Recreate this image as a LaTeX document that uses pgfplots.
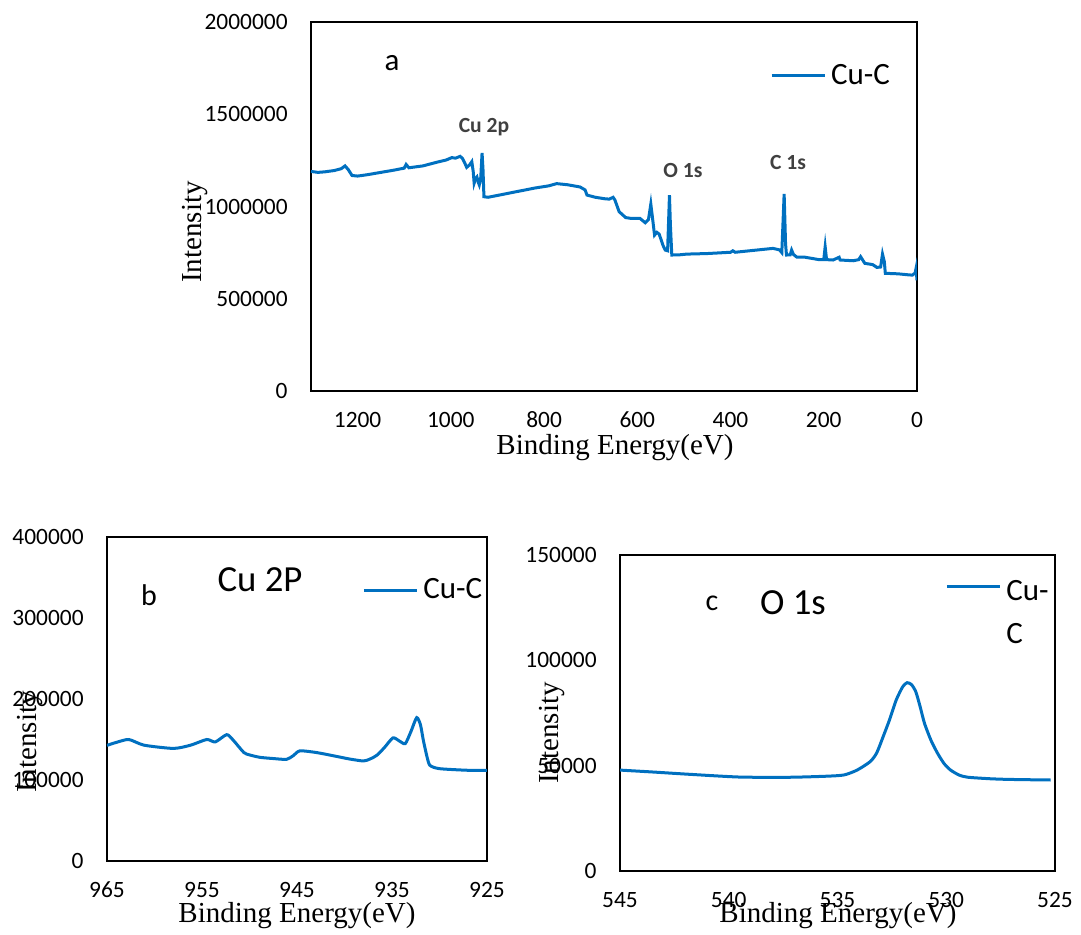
\documentclass[border=0pt]{standalone}
\usepackage{fontspec}
\setmainfont{Liberation Serif}
\newfontfamily\carlito{Carlito}
\usepackage{pgfplots}
\pgfplotsset{compat=1.18}
\definecolor{xblue}{HTML}{0070C0}
\definecolor{anngray}{HTML}{404040}

\pgfplotsset{
  panel/.style={
    scale only axis, anchor=south west,
    axis line style={black, line width=1pt},
    major tick length=0pt,
    tick style={draw=none},
    x dir=reverse,
    scaled y ticks=false, scaled x ticks=false,
    ticklabel style={font=\carlito\fontsize{11.7}{14}\selectfont, inner sep=0pt},
    xticklabel style={anchor=center, yshift=-14.5pt},
    yticklabel style={anchor=east, xshift=-11.5pt},
    /pgf/number format/assume math mode=true,
    legend style={draw=none, fill=none, inner sep=0pt,
      font=\carlito\fontsize{15.5}{21.5}\selectfont, anchor=west,
      nodes={inner sep=0pt}, column sep=2.5pt},
    legend image code/.code={\draw[##1] (0pt,0pt) -- (26.5pt,0pt);},
  }
}

\begin{document}
\begin{tikzpicture}
\useasboundingbox (0,0) rectangle (540.5pt,467pt);

% ---------------- panel a ----------------
\begin{axis}[panel, at={(155.5pt,271.5pt)}, width=303pt, height=184.5pt,
  xmin=0, xmax=1300, ymin=0, ymax=2000000,
  xtick={0,200,400,600,800,1000,1200},
  xticklabels={0,200,400,600,800,1000,1200},
  ytick={0,500000,1000000,1500000,2000000},
  yticklabels={0,500000,1000000,1500000,2000000},
  legend style={at={(0.757,0.854)}}]
\addplot[xblue, line width=1.5pt, no markers] table {
1300 1190000
1285 1185000
1270 1188000
1250 1195000
1235 1205000
1227 1220000
1220 1200000
1212 1168000
1200 1165000
1180 1172000
1150 1185000
1120 1198000
1100 1208000
1096 1228000
1090 1210000
1060 1220000
1030 1240000
1010 1252000
998 1265000
990 1262000
980 1272000
975 1260000
970 1235000
966 1212000
960 1225000
955 1243000
952 1190000
950 1127000
947 1150000
944 1160000
941 1130000
939 1117000
936 1150000
933 1290000
931 1200000
929 1053000
920 1050000
900 1060000
860 1080000
820 1100000
790 1112000
773 1124000
750 1118000
723 1106000
712 1090000
708 1062000
690 1050000
670 1042000
660 1040000
652 1050000
648 1035000
639 972000
625 940000
612 935000
594 935000
583 912000
576 930000
571 1013000
567 930000
563 845000
558 860000
553 850000
545 790000
540 764000
535 760000
531 1062000
529 900000
526 737000
510 738000
494 742000
450 745000
400 752000
395 760000
390 752000
340 765000
309 773000
295 765000
290 750000
285 1068000
282 800000
280 737000
272 738000
269 764000
265 740000
258 726000
240 725000
210 712000
200 712000
197 782000
194 712000
180 710000
167 725000
165 710000
137 706000
125 712000
121 728000
116 708000
112 692000
95 685000
86 670000
78 672000
74 742000
70 700000
68 638000
40 635000
20 630000
10 628000
4 640000
2 665000
0 600000
};
\addlegendentry{Cu-C}
\end{axis}

% ---------------- panel b ----------------
\begin{axis}[panel, at={(53.5pt,36.5pt)}, width=190pt, height=162pt,
  xmin=925, xmax=965, ymin=0, ymax=400000,
  xtick={925,935,945,955,965},
  xticklabels={925,935,945,955,965},
  ytick={0,100000,200000,300000,400000},
  yticklabels={0,100000,200000,300000,400000},
  legend style={at={(0.671,0.836)}}]
\addplot[xblue, line width=1.5pt, no markers, smooth, tension=0.4] table {
965 142800
964 146500
962.7 150000
961.1 143000
958 139000
956.2 143000
954.5 150000
953.6 147000
952.4 156000
951.7 149000
950.6 134000
950 131000
948.9 128000
947.5 126500
946.1 125500
945.4 130000
944.7 136000
943 134000
941.2 130000
939.5 126000
938 123500
937.3 126000
936.6 130500
935.8 140000
934.9 152000
934.2 148000
933.6 145000
933.0 160000
932.4 177000
932.0 168000
931.7 149000
931.3 128000
931 118000
930 114000
927 112000
925 112000
};
\addlegendentry{Cu-C}
\end{axis}

% ---------------- panel c ----------------
\begin{axis}[panel, at={(310pt,31.5pt)}, width=217.5pt, height=158pt,
  xmin=525, xmax=545, ymin=0, ymax=150000,
  xtick={525,530,535,540,545},
  xticklabels={525,530,535,540,545},
  ytick={0,50000,100000,150000},
  yticklabels={0,50000,100000,150000},
  legend style={at={(0.747,0.899)}}]
\addplot[xblue, line width=1.5pt, no markers, smooth, tension=0.4] table {
545 47900
543.5 47000
541.8 45900
539.5 44600
537.2 44500
535.5 45000
534.7 45600
534.1 47900
533.5 51900
533.2 56000
532.9 63800
532.6 72000
532.3 81200
532.0 87500
531.8 89400
531.6 88500
531.4 85100
531.2 78000
531.0 70100
530.7 62000
530.4 55900
530.1 51000
529.8 47900
529.4 45500
529.0 44500
528.0 43800
527.2 43500
526 43300
525.2 43200
};
\addlegendentry{\begin{tabular}[t]{@{}l@{}}Cu-\\C\end{tabular}}
\end{axis}

% ---------------- labels ----------------
\begin{scope}[every node/.style={font=\fontsize{14.5}{17}\selectfont}]
\node at (307.5pt,243pt) {Binding Energy(eV)};
\node[rotate=90] at (97.5pt,351pt) {Intensity};
\node at (148.5pt,9pt) {Binding Energy(eV)};
\node[rotate=90] at (15pt,96pt) {Intensity};
\node at (419pt,9pt) {Binding Energy(eV)};
\node[rotate=90] at (276pt,100.5pt) {Intensity};
\end{scope}

\node[font=\carlito\fontsize{15.5}{18}\selectfont] at (196pt,435.5pt) {a};
\node[font=\carlito\bfseries\fontsize{10.8}{13}\selectfont, text=anngray] at (242pt,403.5pt) {Cu 2p};
\node[font=\carlito\bfseries\fontsize{10.8}{13}\selectfont, text=anngray] at (341.5pt,382pt) {O 1s};
\node[font=\carlito\bfseries\fontsize{10.8}{13}\selectfont, text=anngray] at (394pt,386pt) {C 1s};

\node[font=\carlito\fontsize{15}{18}\selectfont] at (74.5pt,169.5pt) {b};
\node[font=\carlito\fontsize{18.4}{22}\selectfont] at (130pt,177pt) {Cu 2P};
\node[font=\carlito\fontsize{15}{18}\selectfont] at (356pt,165.5pt) {c};
\node[font=\carlito\fontsize{18.4}{22}\selectfont] at (396.5pt,165.5pt) {O 1s};
\end{tikzpicture}
\end{document}
